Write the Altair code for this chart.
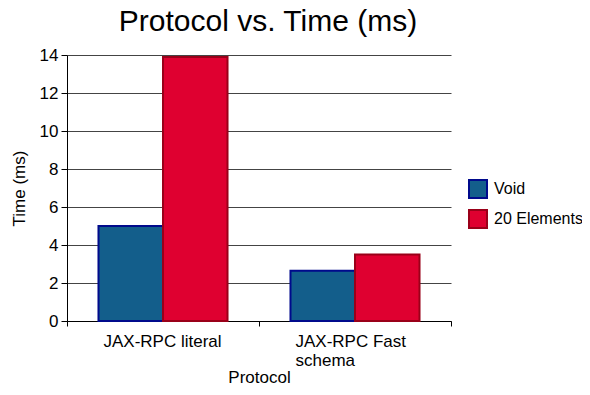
import altair as alt
import pandas as pd

protocols = ["JAX-RPC literal", "JAX-RPC Fast schema"]
series = ["Void", "20 Elements"]
void_vals = [5.0, 2.65]
elem_vals = [13.9, 3.5]

rows = []
for i, p in enumerate(protocols):
    rows.append({"Protocol": p, "Series": series[0], "Time": void_vals[i]})
    rows.append({"Protocol": p, "Series": series[1], "Time": elem_vals[i]})
df = pd.DataFrame(rows)

FONT = "Liberation Sans"
fills = ["#135e8b", "#df0030"]
strokes = ["#000a8c", "#9a0019"]

leg = dict(title=None, orient="none", legendX=401, legendY=124,
           symbolType="square", symbolSize=324,
           symbolStrokeWidth=2, rowPadding=4, labelOffset=6)

chart = alt.Chart(df).mark_bar(strokeWidth=2).encode(
    x=alt.X("Protocol:N", sort=protocols,
            scale=alt.Scale(paddingInner=0, paddingOuter=0),
            axis=alt.Axis(title="Protocol", labelAngle=0, tickBand="extent",
                          labelExpr="datum.label == 'JAX-RPC Fast schema' ? ['JAX-RPC Fast', 'schema'] : datum.label",
                          labelAlign="left", labelOffset=-60,
                          labelLineHeight=19, labelPadding=7, tickSize=5,
                          titlePadding=1, domainColor="black", tickColor="black")),
    xOffset=alt.XOffset("Series:N", sort=series,
                        scale=alt.Scale(paddingInner=0, paddingOuter=0.488)),
    y=alt.Y("Time:Q", scale=alt.Scale(domain=[0, 14]),
            axis=alt.Axis(title="Time (ms)", values=[0, 2, 4, 6, 8, 10, 12, 14],
                          tickSize=6, labelPadding=3, titlePadding=11,
                          gridColor="#444444", domainColor="black", tickColor="black")),
    fill=alt.Fill("Series:N", sort=series,
                  scale=alt.Scale(domain=series, range=fills),
                  legend=alt.Legend(**leg)),
    stroke=alt.Stroke("Series:N", sort=series,
                      scale=alt.Scale(domain=series, range=strokes),
                      legend=alt.Legend(**leg)),
).properties(
    width=384, height=266,
    autosize=alt.AutoSizeParams(type="none"),
    padding={"left": 59, "top": 47, "right": 131, "bottom": 66},
    title=alt.TitleParams("Protocol vs. Time (ms)", font=FONT, fontSize=30,
                          fontWeight="normal", anchor="middle", dx=9, dy=15,
                          baseline="alphabetic", offset=0, color="black"),
).configure_axis(
    labelFont=FONT, titleFont=FONT, labelFontSize=17, titleFontSize=17,
    titleFontWeight="normal", labelColor="black", titleColor="black",
).configure_axisX(grid=False).configure_legend(
    labelFont=FONT, labelFontSize=16, labelColor="black",
).configure_view(stroke=None)

chart.save("out.html", embed_options={"renderer": "svg", "actions": False})
